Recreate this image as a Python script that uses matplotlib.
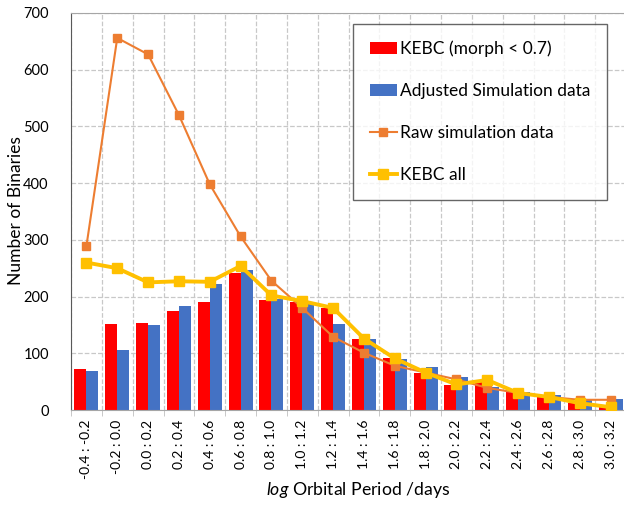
import numpy as np
import matplotlib
matplotlib.use('Agg')
import matplotlib.pyplot as plt

plt.rcParams['font.family'] = ['Lato', 'DejaVu Sans']
plt.rcParams['mathtext.fontset'] = 'custom'
plt.rcParams['mathtext.rm'] = 'Lato'
plt.rcParams['mathtext.it'] = 'Lato:italic'

bins = ['-0.4 : -0.2', '-0.2 : 0.0', '0.0 : 0.2', '0.2 : 0.4', '0.4 : 0.6', '0.6 : 0.8',
        '0.8 : 1.0', '1.0 : 1.2', '1.2 : 1.4', '1.4 : 1.6', '1.6 : 1.8', '1.8 : 2.0',
        '2.0 : 2.2', '2.2 : 2.4', '2.4 : 2.6', '2.6 : 2.8', '2.8 : 3.0', '3.0 : 3.2']

kebc_morph = [73, 152, 154, 174, 190, 241, 194, 190, 180, 126, 91, 66, 44, 49, 32, 23, 12, 6]
adjusted_sim = [68, 105, 150, 183, 223, 246, 196, 188, 151, 125, 90, 75, 59, 41, 32, 26, 20, 19]
raw_sim = [289, 656, 627, 520, 398, 306, 228, 180, 129, 101, 78, 66, 54, 39, 30, 23, 18, 18]
kebc_all = [260, 250, 225, 227, 226, 254, 202, 192, 180, 126, 91, 66, 45, 53, 30, 23, 12, 5]

x = np.arange(len(bins))
w = 0.39

fig = plt.figure(figsize=(6.24, 5.07), dpi=100)
ax = fig.add_axes([71/624, 1 - 410/507, 555/624, 397/507])

b1 = ax.bar(x - w/2, kebc_morph, width=w, color='#FF0000', label='KEBC (morph < 0.7)', zorder=2)
b2 = ax.bar(x + w/2, adjusted_sim, width=w, color='#4472C4', label='Adjusted Simulation data', zorder=2)
l1, = ax.plot(x, raw_sim, color='#ED7D31', lw=1.5, marker='s', ms=6, label='Raw simulation data', zorder=3)
l2, = ax.plot(x, kebc_all, color='#FFC000', lw=2.8, marker='s', ms=7, label='KEBC all', zorder=4)

ax.set_xlim(-0.5, len(bins) - 0.5)
ax.set_ylim(0, 700)
ax.set_yticks(range(0, 701, 100))
ax.set_xticks(x)
ax.set_xticklabels(bins, rotation=90, fontsize=10)
ax.set_xticks(np.arange(-0.5, len(bins), 1), minor=True)
ax.tick_params(axis='x', which='major', length=0, pad=7)
ax.tick_params(axis='x', which='minor', length=4, color='#BFBFBF')
ax.tick_params(axis='y', length=0, labelsize=10.5, pad=16)

ax.grid(axis='y', which='major', ls='--', color='#C8C8C8', lw=0.9, zorder=0)
ax.grid(axis='x', which='minor', ls='--', color='#C8C8C8', lw=0.9, zorder=0)
ax.set_axisbelow(True)

for s in ['top', 'bottom']:
    ax.spines[s].set_color('#A6A6A6')
ax.spines['left'].set_color('#595959')
ax.spines['right'].set_visible(False)

fig.text(16/624, 1 - 211/507, 'Number of Binaries', fontsize=12.5, rotation=90,
         ha='center', va='center')
fig.text(358/624, 1 - 490/507, r'$\mathit{log}$ Orbital Period /days', fontsize=12.7,
         ha='center', va='center')

leg = ax.legend([b1, b2, l1, l2],
                ['KEBC (morph < 0.7)', 'Adjusted Simulation data', 'Raw simulation data', 'KEBC all'],
                loc='upper right', bbox_to_anchor=((607 - 71) / 555, 1 - 11 / 397),
                bbox_transform=ax.transAxes, fontsize=12.5, frameon=True, fancybox=False,
                edgecolor='#404040', labelspacing=1.5, borderpad=0.95, handlelength=1.55,
                handletextpad=0.2, borderaxespad=0)
leg.get_frame().set_linewidth(1.0)

fig.savefig('out.png', dpi=100)
